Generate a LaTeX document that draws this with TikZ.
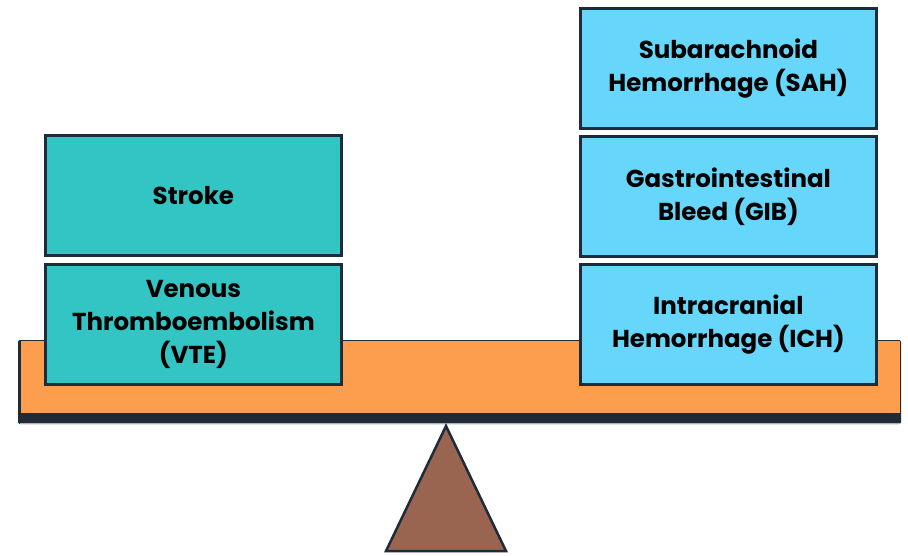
\documentclass[tikz,border=0pt]{standalone}
\usepackage{fontspec}
\setmainfont{Poppins}[BoldFont={* Bold}]
\definecolor{beamorange}{HTML}{FD9E4F}
\definecolor{edgedark}{HTML}{1E2B3B}
\definecolor{tealbox}{HTML}{33C5C3}
\definecolor{skybox}{HTML}{66D7FA}
\definecolor{pivotbrown}{HTML}{9A6550}
\tikzset{
  riskbox/.style={draw=edgedark,line width=2.8pt,minimum width=296pt,minimum height=120pt,
    anchor=north west,align=center,font=\bfseries\fontsize{24.5}{33}\selectfont,inner sep=2pt},
  clotbox/.style={riskbox,fill=tealbox},
  bleedbox/.style={riskbox,fill=skybox}
}
\begin{document}
\begin{tikzpicture}[x=1pt,y=-1pt]
\useasboundingbox (0,0) rectangle (908,555);

% beam and pivot
\fill[color=edgedark,rounded corners=2pt] (18,340) rectangle (901,424);
\fill[color=beamorange] (21,341) rectangle (900,413);
\draw[color=beamorange,line width=1pt] (20,423.5) -- (900,423.5);
\filldraw[fill=pivotbrown,draw=edgedark,line width=2.5pt,line join=miter] (446,426) -- (506,551) -- (386,551) -- cycle;

% left side
\node[clotbox] (stroke) at (44,134) {Stroke};
\node[clotbox] (vte) at (44,263) {Venous\\Thromboembolism\\(VTE)};

% right side
\node[bleedbox] (sah) at (579,7) {Subarachnoid\\Hemorrhage (SAH)};
\node[bleedbox] (gib) at (579,135) {Gastrointestinal\\Bleed (GIB)};
\node[bleedbox] (ich) at (579,263) {Intracranial\\Hemorrhage (ICH)};

\end{tikzpicture}
\end{document}
